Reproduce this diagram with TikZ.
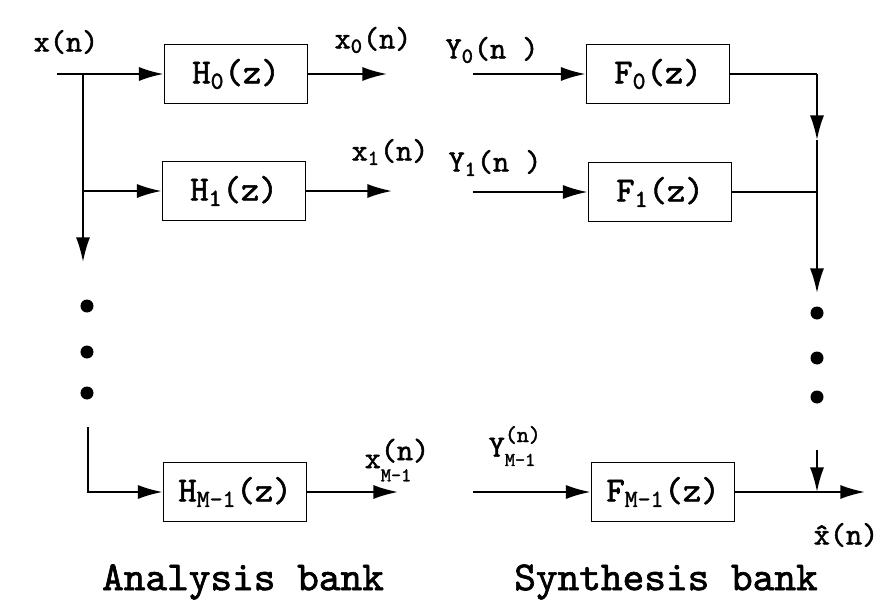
\documentclass[tikz,border=0pt]{standalone}
\usepackage{fontspec}
\newfontfamily\heavytt{lmmono10-regular.otf}[FakeBold=1.6]
\usetikzlibrary{arrows.meta}

\begin{document}
\begin{tikzpicture}[x=0.02cm, y=-0.02cm, >={Latex[length=14pt,width=8pt]}, line width=1.1pt,
    filt/.style={draw, line width=1.1pt, minimum width=2.86cm, minimum height=1.18cm,
      font=\heavytt\fontsize{20}{24}\selectfont},
    lbl/.style={font=\heavytt\fontsize{17.5}{20}\selectfont, inner sep=0pt},
    bank/.style={font=\heavytt\fontsize{23.5}{28}\selectfont, inner sep=0pt}]

    \useasboundingbox (0,0) rectangle (877,612);

    % analysis filters
    \node[filt] (h0) at (236,74) {H\textsubscript{0}(z)};
    \node[filt] (h1) at (234,191) {H\textsubscript{1}(z)};
    \node[filt] (hM) at (235,492) {H\textsubscript{M-1}(z)};

    % synthesis filters
    \node[filt] (f0) at (658,74) {F\textsubscript{0}(z)};
    \node[filt] (f1) at (660,192) {F\textsubscript{1}(z)};
    \node[filt] (fM) at (663,492) {F\textsubscript{M-1}(z)};

    % input and branches
    \coordinate (xin) at (57,74);
    \coordinate (sp) at (83,74);
    \coordinate (dn) at (83,262);
    \coordinate (lo) at (88,427);
    \draw[->] (xin) -- (h0.west);
    \draw[->] (sp) -- (dn);
    \draw[->] (sp |- h1.west) -- (h1.west);
    \draw[->] (lo) |- (hM.west);
    \foreach \y in {306,352,393}
        \fill (87,\y) circle (3.7pt);

    % analysis outputs
    \coordinate (o0) at (387,74);
    \coordinate (o1) at (392,191);
    \coordinate (oM) at (398,492);
    \draw[->] (h0.east) -- (o0);
    \draw[->] (h1.east) -- (o1);
    \draw[->] (hM.east) -- (oM);

    % synthesis inputs
    \coordinate (i0) at (473,74);
    \coordinate (i1) at (473,192);
    \coordinate (iM) at (473,492);
    \draw[->] (i0) -- (f0.west);
    \draw[->] (i1) -- (f1.west);
    \draw[->] (iM) -- (fM.west);

    % summing line
    \coordinate (bt) at (817,74);
    \coordinate (a1) at (817,140);
    \coordinate (a2) at (817,293);
    \coordinate (a3) at (817,450);
    \coordinate (xo) at (865,492);
    \draw (f0.east) -- (bt);
    \draw[->] (bt) -- (a1);
    \draw[->] (a1) -- (a2);
    \draw (f1.east) -- (f1.east -| a1);
    \foreach \y in {313,358,397}
        \fill (817,\y) circle (3.7pt);
    \draw[->] (a3) -- (a3 |- fM.east);
    \draw[->] (fM.east) -- (xo);

    % labels
    \node[lbl] (lx) at (66,42) {x(n)};
    \node[lbl] (lx0) at (373,40) {x\textsubscript{0}(n)};
    \node[lbl] (lx1) at (390,152) {x\textsubscript{1}(n)};
    \node[lbl] (lxM) at (388,460) {x\rlap{\raisebox{0.6ex}{(n)}}\raisebox{-1.0ex}{\fontsize{11}{12}\selectfont M-1}};
    \node[lbl] (ly0) at (492,50) {Y\textsubscript{0}(n )};
    \node[lbl] (ly1) at (495,163) {Y\textsubscript{1}(n )};
    \node[lbl] (lyM) at (512,446) {Y\rlap{\raisebox{1.1ex}{\fontsize{13}{14}\selectfont(n)}}\raisebox{-0.7ex}{\fontsize{11}{12}\selectfont M-1}};
    \node[lbl] (lxh) at (846,535) {\^x(n)};

    \node[bank] (ab) at (243,582) {Analysis bank};
    \node[bank] (sb) at (666,582) {Synthesis bank};
\end{tikzpicture}
\end{document}
